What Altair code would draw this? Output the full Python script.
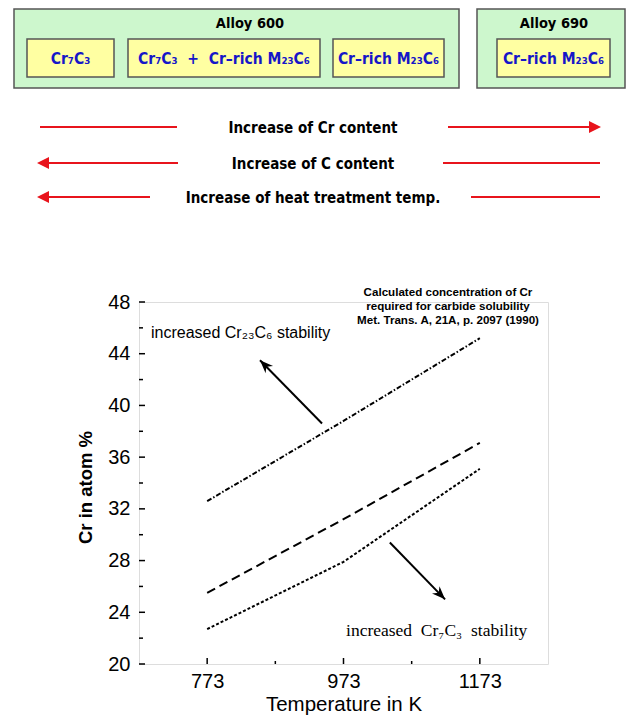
import altair as alt
import pandas as pd

# ---------------- data ----------------
temperature_k = [773, 973, 1173]
cr_m23c6_line = [32.6, 38.8, 45.2]   # dash-dot
cr_mid_line = [25.5, 31.2, 37.1]     # dashed
cr_low_line = [22.7, 27.9, 35.1]     # dotted
series_names = ["M23C6 limit", "middle", "Cr7C3 limit"]

x_major = [773, 973, 1173]
x_minor = [873, 1073]
y_major = [20, 24, 28, 32, 36, 40, 44, 48]
y_minor = [22, 26, 30, 34, 38, 42, 46]

NB = "\u00a0"
box_titles = ["Alloy 600", "Alloy 690"]
box_items = ["Cr₇C₃", f"Cr₇C₃{NB}{NB}+{NB}{NB}Cr–rich M₂₃C₆", "Cr–rich M₂₃C₆", "Cr–rich M₂₃C₆"]
trend_labels = ["Increase of Cr content", "Increase of C content", "Increase of heat treatment temp."]
citation = ["Calculated concentration of Cr", "required for carbide solubility",
            "Met. Trans. A, 21A, p. 2097 (1990)"]
note_upper = "increased Cr₂₃C₆ stability"
note_lower = f"increased{NB}{NB}Cr₇C₃{NB}{NB}stability"

# ---------------- layout (screen pixels) ----------------
W, H = 409, 362
OX, OY = 139, 302          # plot origin on the page
X_DOM = [673, 1273]
Y_DOM = [20, 48]

outer_boxes = [(14, 9, 459, 88), (477, 9, 625, 88)]
inner_boxes = [(27, 39, 114, 77), (128, 39, 320, 77), (333, 39, 444, 77), (497, 39, 610, 77)]
title_pos = [(250, 28), (554, 28)]
item_pos = [(70.5, 64), (224, 64), (388.5, 64), (553.5, 64)]
row_y = [127, 163, 197]
row_text_x = 313
red_segments = [(40, 177, 127), (448, 592, 127), (45, 178, 163), (443, 600, 163),
                (45, 150, 197), (471, 600, 197)]
red_heads = [(601, 127, "right"), (37, 163, "left"), (37, 197, "left")]

BLUE = "#1616c8"
RED = "#e8141c"
COND = "DejaVu Sans Condensed, DejaVu Sans, sans-serif"
SANS = "Liberation Sans, Arial, sans-serif"
SERIF = "Liberation Serif, Times New Roman, serif"

xs = alt.Scale(domain=X_DOM, nice=False, zero=False)
ys = alt.Scale(domain=Y_DOM, nice=False, zero=False)

# ---------------- plot lines ----------------
rows = []
for name, vals in zip(series_names, [cr_m23c6_line, cr_mid_line, cr_low_line]):
    for t, v in zip(temperature_k, vals):
        rows.append({"series": name, "T": t, "Cr": v})
lines_df = pd.DataFrame(rows)

lines = alt.Chart(lines_df).mark_line(color="black", strokeWidth=2).encode(
    x=alt.X("T:Q", scale=xs,
            axis=alt.Axis(values=x_major, title="Temperature in K", tickSize=0, domain=False,
                          grid=False, labelFontSize=20, labelFont=SANS, labelColor="black",
                          labelPadding=7, titleFont=SANS, titleFontSize=20.5,
                          titleFontWeight="normal", titleColor="black",
                          titleBaseline="alphabetic", titleY=46, format="d")),
    y=alt.Y("Cr:Q", scale=ys,
            axis=alt.Axis(values=y_major, title="Cr in atom %", tickSize=0, domain=False,
                          grid=False, labelFontSize=20, labelFont=SANS, labelColor="black",
                          labelPadding=9, titleFont=SANS, titleFontSize=18.5,
                          titleFontWeight="bold", titleColor="black", titleAngle=270,
                          titleBaseline="middle", titleX=-54, titleY=185, format="d")),
    strokeDash=alt.StrokeDash("series:N",
                              scale=alt.Scale(domain=series_names,
                                              range=[[5, 2, 1.5, 2], [9, 5], [3, 2]]),
                              legend=None),
    detail="series:N",
)

# inward ticks
x_ticks_major = alt.Chart(pd.DataFrame({"T": x_major})).mark_rule(color="black", strokeWidth=1.5).encode(
    x=alt.X("T:Q", scale=xs), y=alt.value(H), y2=alt.value(H - 6))
x_ticks_minor = alt.Chart(pd.DataFrame({"T": x_minor})).mark_rule(color="black", strokeWidth=1.5).encode(
    x=alt.X("T:Q", scale=xs), y=alt.value(H), y2=alt.value(H - 3))
y_ticks_major = alt.Chart(pd.DataFrame({"Cr": y_major})).mark_rule(color="black", strokeWidth=1.5).encode(
    y=alt.Y("Cr:Q", scale=ys), x=alt.value(0), x2=alt.value(6))
y_ticks_minor = alt.Chart(pd.DataFrame({"Cr": y_minor})).mark_rule(color="black", strokeWidth=1.5).encode(
    y=alt.Y("Cr:Q", scale=ys), x=alt.value(0), x2=alt.value(4))

# black arrows inside the plot (data coordinates)
arrow_df = pd.DataFrame({
    "x": [941.5, 1041.0], "y": [38.6, 29.4],
    "x2": [850.5, 1122.0], "y2": [43.5, 25.0],
    "angle": [315.5, 135.5],
})
arrow_lines = alt.Chart(arrow_df).mark_rule(color="black", strokeWidth=2).encode(
    x=alt.X("x:Q", scale=xs), y=alt.Y("y:Q", scale=ys), x2="x2:Q", y2="y2:Q")
arrow_heads = alt.Chart(arrow_df).mark_point(
    shape="M0,0 L-0.75,1.9 L0,1.3 L0.75,1.9 Z", filled=True, color="black", opacity=1, size=196
).encode(x=alt.X("x2:Q", scale=xs), y=alt.Y("y2:Q", scale=ys),
         angle=alt.Angle("angle:Q", scale=None))

notes_df = pd.DataFrame({"x": [690.6], "y": [45.2], "t": [note_upper]})
note_up = alt.Chart(notes_df).mark_text(align="left", baseline="alphabetic", font=SANS,
                                        fontSize=16, color="black").encode(
    x=alt.X("x:Q", scale=xs), y=alt.Y("y:Q", scale=ys), text="t:N")
notes2_df = pd.DataFrame({"x": [976.7], "y": [22.17], "t": [note_lower]})
note_low = alt.Chart(notes2_df).mark_text(align="left", baseline="alphabetic", font=SERIF,
                                          fontSize=17.5, color="black").encode(
    x=alt.X("x:Q", scale=xs), y=alt.Y("y:Q", scale=ys), text="t:N")

cit_df = pd.DataFrame({"x": [448 - OX] * 3, "y": [296 - OY, 309.5 - OY, 324 - OY], "t": citation})
cit = alt.Chart(cit_df).mark_text(align="center", baseline="alphabetic", font=SANS,
                                  fontWeight="bold", fontSize=11.6, color="black").encode(
    x=alt.X("x:Q", scale=None), y=alt.Y("y:Q", scale=None), text="t:N")

# ---------------- top diagram (pixel coordinates) ----------------
def px(v):
    return v - OX

def py(v):
    return v - OY

ob_df = pd.DataFrame([{"x": px(a), "y": py(b), "x2": px(c), "y2": py(d)} for a, b, c, d in outer_boxes])
outer = alt.Chart(ob_df).mark_rect(fill="#cdf7cd", stroke="#555555", strokeWidth=1.5).encode(
    x=alt.X("x:Q", scale=None), y=alt.Y("y:Q", scale=None), x2="x2:Q", y2="y2:Q")
ib_df = pd.DataFrame([{"x": px(a), "y": py(b), "x2": px(c), "y2": py(d)} for a, b, c, d in inner_boxes])
inner = alt.Chart(ib_df).mark_rect(fill="#ffffa2", stroke="#555555", strokeWidth=1.5).encode(
    x=alt.X("x:Q", scale=None), y=alt.Y("y:Q", scale=None), x2="x2:Q", y2="y2:Q")

tt_df = pd.DataFrame([{"x": px(x), "y": py(y), "t": t} for t, (x, y) in zip(box_titles, title_pos)])
titles = alt.Chart(tt_df).mark_text(align="center", baseline="alphabetic", font=COND,
                                    fontWeight="bold", fontSize=14.5, color="black").encode(
    x=alt.X("x:Q", scale=None), y=alt.Y("y:Q", scale=None), text="t:N")
it_df = pd.DataFrame([{"x": px(x), "y": py(y), "t": t} for t, (x, y) in zip(box_items, item_pos)])
items = alt.Chart(it_df).mark_text(align="center", baseline="alphabetic", font=COND,
                                   fontWeight="bold", fontSize=15.5, color=BLUE).encode(
    x=alt.X("x:Q", scale=None), y=alt.Y("y:Q", scale=None), text="t:N")

rt_df = pd.DataFrame([{"x": px(row_text_x), "y": py(y + 5.5), "t": t} for t, y in zip(trend_labels, row_y)])
row_texts = alt.Chart(rt_df).mark_text(align="center", baseline="alphabetic", font=COND,
                                       fontWeight="bold", fontSize=15, color="black").encode(
    x=alt.X("x:Q", scale=None), y=alt.Y("y:Q", scale=None), text="t:N")

rs_df = pd.DataFrame([{"x": px(a), "x2": px(b), "y": py(y)} for a, b, y in red_segments])
red_lines = alt.Chart(rs_df).mark_rule(color=RED, strokeWidth=2).encode(
    x=alt.X("x:Q", scale=None), x2="x2:Q", y=alt.Y("y:Q", scale=None))
rh_df = pd.DataFrame([{"x": px(x), "y": py(y), "angle": 90 if d == "right" else 270}
                      for x, y, d in red_heads])
red_heads_chart = alt.Chart(rh_df).mark_point(
    shape="M0,0 L-1,2 L1,2 Z", filled=True, color=RED, opacity=1, size=144
).encode(x=alt.X("x:Q", scale=None), y=alt.Y("y:Q", scale=None),
         angle=alt.Angle("angle:Q", scale=None))

chart = alt.layer(
    outer, inner, titles, items, red_lines, red_heads_chart, row_texts,
    x_ticks_major, x_ticks_minor, y_ticks_major, y_ticks_minor,
    lines, arrow_lines, arrow_heads, note_up, note_low, cit,
).properties(
    width=W, height=H,
    autosize=alt.AutoSizeParams(type="none"),
    padding={"left": OX - 8, "top": OY - 8, "right": 618 - (OX - 8) - W, "bottom": 707 - (OY - 8) - H},
).configure_view(stroke="black", strokeWidth=1.6, fill="white").configure(background="white")

chart.save("out.html", embed_options={"renderer": "svg", "actions": False})
